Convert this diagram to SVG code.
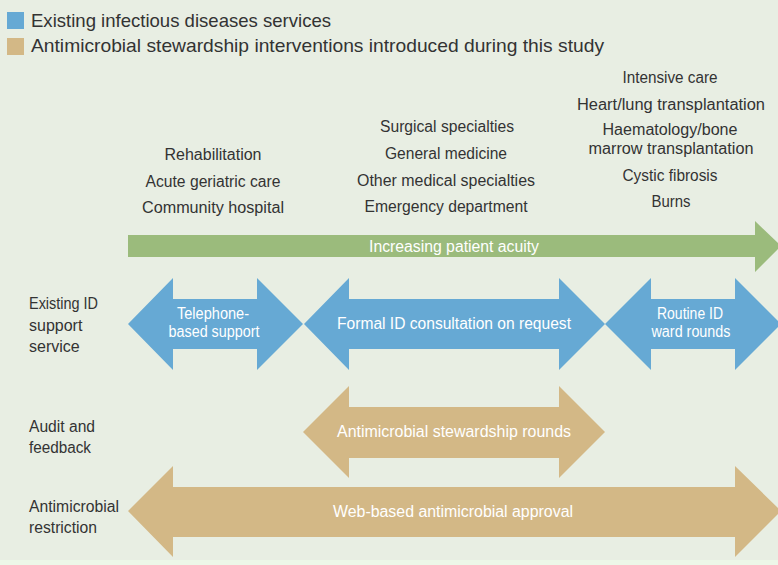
<svg xmlns="http://www.w3.org/2000/svg" width="778" height="565" viewBox="0 0 778 565">
  <style>
    text { font-family: "Liberation Sans", Arial, sans-serif; }
    .lbl { fill: #333333; font-size: 16px; text-anchor: middle; }
    .row { fill: #333333; font-size: 16px; }
    .leg { fill: #333333; font-size: 18.5px; }
    .in { fill: #ffffff; font-size: 16px; text-anchor: middle; }
    .blue { fill: #66a9d4; }
    .tan { fill: #d3b886; }
    .green { fill: #9bbb7c; }
  </style>

  <!-- background -->
  <rect x="0" y="0" width="778" height="565" fill="#e8eee3"/>
  <rect x="0" y="560" width="778" height="5" fill="#edf7e8"/>

  <!-- legend -->
  <g id="legend">
    <rect class="blue" x="7" y="12" width="17" height="17"/>
    <text class="leg" x="31" y="27" textLength="300" lengthAdjust="spacingAndGlyphs">Existing infectious diseases services</text>
    <rect class="tan" x="7" y="38" width="17" height="17"/>
    <text class="leg" x="31" y="52" textLength="573" lengthAdjust="spacingAndGlyphs">Antimicrobial stewardship interventions introduced during this study</text>
  </g>

  <!-- ward groups by acuity -->
  <g id="wards-low">
    <text class="lbl" x="213" y="160" textLength="97" lengthAdjust="spacingAndGlyphs">Rehabilitation</text>
    <text class="lbl" x="213" y="187" textLength="135" lengthAdjust="spacingAndGlyphs">Acute geriatric care</text>
    <text class="lbl" x="213" y="213" textLength="142" lengthAdjust="spacingAndGlyphs">Community hospital</text>
  </g>
  <g id="wards-mid">
    <text class="lbl" x="447" y="132" textLength="134" lengthAdjust="spacingAndGlyphs">Surgical specialties</text>
    <text class="lbl" x="446" y="159" textLength="122" lengthAdjust="spacingAndGlyphs">General medicine</text>
    <text class="lbl" x="446" y="186" textLength="178" lengthAdjust="spacingAndGlyphs">Other medical specialties</text>
    <text class="lbl" x="446" y="212" textLength="163" lengthAdjust="spacingAndGlyphs">Emergency department</text>
  </g>
  <g id="wards-high">
    <text class="lbl" x="670" y="83" textLength="95" lengthAdjust="spacingAndGlyphs">Intensive care</text>
    <text class="lbl" x="671" y="110" textLength="188" lengthAdjust="spacingAndGlyphs">Heart/lung transplantation</text>
    <text class="lbl" x="670" y="135" textLength="135" lengthAdjust="spacingAndGlyphs">Haematology/bone</text>
    <text class="lbl" x="671" y="154" textLength="165" lengthAdjust="spacingAndGlyphs">marrow transplantation</text>
    <text class="lbl" x="670" y="181" textLength="95" lengthAdjust="spacingAndGlyphs">Cystic fibrosis</text>
    <text class="lbl" x="671" y="207" textLength="39" lengthAdjust="spacingAndGlyphs">Burns</text>
  </g>

  <!-- row headings -->
  <g id="row-labels">
    <text class="row" x="29" y="309" textLength="69" lengthAdjust="spacingAndGlyphs">Existing ID</text>
    <text class="row" x="29" y="331">support</text>
    <text class="row" x="29" y="352">service</text>
    <text class="row" x="29" y="432" textLength="66" lengthAdjust="spacingAndGlyphs">Audit and</text>
    <text class="row" x="29" y="453" textLength="62" lengthAdjust="spacingAndGlyphs">feedback</text>
    <text class="row" x="29" y="512" textLength="90" lengthAdjust="spacingAndGlyphs">Antimicrobial</text>
    <text class="row" x="29" y="533" textLength="68" lengthAdjust="spacingAndGlyphs">restriction</text>
  </g>

  <!-- arrows -->
  <g id="connectors">
    <g id="acuity">
      <path class="green" d="M128,235 H755 V221 L781,246 L755,272 V257 H128 Z"/>
      <text class="in" x="454" y="252" textLength="170" lengthAdjust="spacingAndGlyphs">Increasing patient acuity</text>
    </g>
    <g id="telephone">
      <path class="blue" d="M128,324 L173,278 V299 H257 V278 L303,324 L257,370 V349 H173 V370 Z"/>
      <text class="in" x="213" y="319" textLength="72" lengthAdjust="spacingAndGlyphs">Telephone-</text>
      <text class="in" x="214" y="337" textLength="91" lengthAdjust="spacingAndGlyphs">based support</text>
    </g>
    <g id="consultation">
      <path class="blue" d="M304,324 L349,278 V299 H559 V278 L605,324 L559,370 V349 H349 V370 Z"/>
      <text class="in" x="454" y="329" textLength="234" lengthAdjust="spacingAndGlyphs">Formal ID consultation on request</text>
    </g>
    <g id="ward-rounds">
      <path class="blue" d="M605,324 L651,278 V299 H735 V278 L781,324 L735,370 V349 H651 V370 Z"/>
      <text class="in" x="690" y="319" textLength="66" lengthAdjust="spacingAndGlyphs">Routine ID</text>
      <text class="in" x="691" y="337" textLength="79" lengthAdjust="spacingAndGlyphs">ward rounds</text>
    </g>
    <g id="stewardship">
      <path class="tan" d="M303,432 L349,386 V407 H559 V386 L605,432 L559,478 V458 H349 V478 Z"/>
      <text class="in" x="454" y="437" textLength="234" lengthAdjust="spacingAndGlyphs">Antimicrobial stewardship rounds</text>
    </g>
    <g id="approval">
      <path class="tan" d="M128,511 L173,466 V487 H735 V466 L781,511 L735,557 V537 H173 V557 Z"/>
      <text class="in" x="453" y="517" textLength="240" lengthAdjust="spacingAndGlyphs">Web-based antimicrobial approval</text>
    </g>
  </g>
</svg>
